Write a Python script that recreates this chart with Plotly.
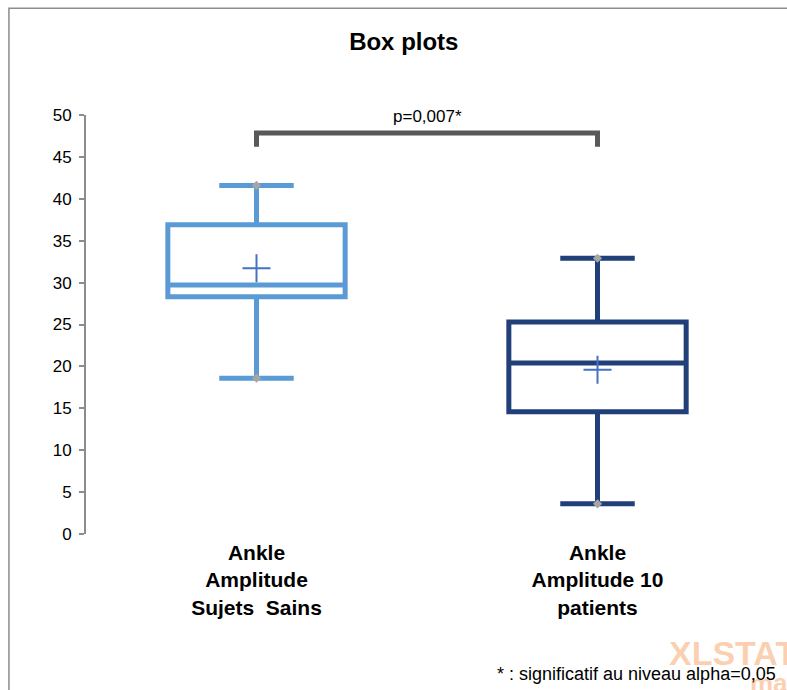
import plotly.graph_objects as go

# categories and summary statistics
categories = ["Ankle<br>Amplitude<br>Sujets  Sains", "Ankle<br>Amplitude 10<br>patients"]
lower_fence = [18.6, 3.6]
q1 = [28.3, 14.6]
median = [29.7, 20.4]
q3 = [36.9, 25.3]
upper_fence = [41.6, 32.9]
mean = [31.7, 19.6]
colors = ["#5B9BD5", "#213F79"]

# significance bracket
bracket_x = [0, 0, 1, 1]
bracket_y = [46.2, 47.85, 47.85, 46.2]
p_label = "p=0,007*"

y_ticks = list(range(0, 51, 5))

fig = go.Figure()

for i in range(len(categories)):
    fig.add_trace(go.Box(
        x=[i], q1=[q1[i]], median=[median[i]], q3=[q3[i]],
        lowerfence=[lower_fence[i]], upperfence=[upper_fence[i]],
        width=0.52, whiskerwidth=0.42,
        line=dict(color=colors[i], width=5),
        fillcolor="white", showlegend=False, hoverinfo="skip"
    ))
    # min / max points
    fig.add_trace(go.Scatter(
        x=[i, i], y=[lower_fence[i], upper_fence[i]], mode="markers",
        marker=dict(symbol="diamond", size=7, color="#A6A6A6"),
        showlegend=False, hoverinfo="skip"
    ))
    # mean marker
    fig.add_trace(go.Scatter(
        x=[i], y=[mean[i]], mode="markers",
        marker=dict(symbol="cross-thin", size=20,
                    line=dict(color="#4472C4", width=2)),
        showlegend=False, hoverinfo="skip"
    ))

fig.add_trace(go.Scatter(
    x=bracket_x, y=bracket_y, mode="lines",
    line=dict(color="#595959", width=5), cliponaxis=False,
    showlegend=False, hoverinfo="skip"
))

fig.add_annotation(x=0.5, y=48.4, xref="x", yref="y", text=p_label,
                   showarrow=False, yanchor="bottom",
                   font=dict(size=17, color="#000000"))

# XLSTAT watermark, clipped at the right edge like in the source
fig.add_annotation(x=0.852, y=-0.285, xref="paper", yref="paper",
                   text="<b>XLSTAT</b>", showarrow=False,
                   xanchor="left", yanchor="middle",
                   font=dict(size=34, color="rgba(248,160,100,0.5)"))
fig.add_annotation(x=0.97, y=-0.355, xref="paper", yref="paper",
                   text="<b>ma</b>", showarrow=False,
                   xanchor="left", yanchor="middle",
                   font=dict(size=26, color="rgba(248,160,100,0.5)"))

fig.add_annotation(x=1.015, y=-0.335, xref="paper", yref="paper",
                   text="* : significatif au niveau alpha=0,05",
                   showarrow=False, xanchor="right", yanchor="middle",
                   font=dict(size=18, color="#000000"))

# frame of the original chart area
fig.add_shape(type="rect", xref="paper", yref="paper",
              x0=-0.113, x1=1.2, y0=-0.5, y1=1.255,
              line=dict(color="#8C8C8C", width=1.5), layer="below")

fig.update_layout(
    width=787, height=690,
    margin=dict(l=86, r=19, t=115, b=156),
    paper_bgcolor="white", plot_bgcolor="white",
    font=dict(family="Liberation Sans, Arial, sans-serif", color="#000000"),
    title=dict(text="<b>Box plots</b>", x=0.466, xref="paper", xanchor="center",
               y=0.94, yanchor="middle", font=dict(size=24)),
    xaxis=dict(range=[-0.5, 1.5], tickvals=[0, 1], ticktext=[f"<b>{c}</b>" for c in categories],
               showline=False, showgrid=False, zeroline=False, ticks="",
               tickfont=dict(size=21), ticklabelstandoff=4),
    yaxis=dict(range=[0, 50], tickvals=y_ticks, showgrid=False, zeroline=False,
               showline=True, linecolor="#8C8C8C", linewidth=2,
               ticks="outside", ticklen=5, tickwidth=1.5, tickcolor="#8C8C8C",
               tickfont=dict(size=17), ticklabelstandoff=4),
)

fig.write_html("out.html", config={"displayModeBar": False},
               post_script="document.body.style.margin='0';")
